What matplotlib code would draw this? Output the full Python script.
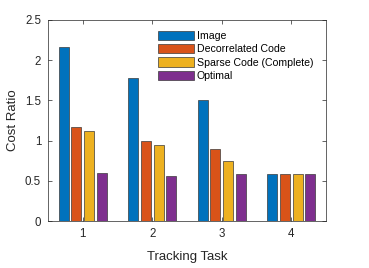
import numpy as np
import matplotlib
matplotlib.use("Agg")
import matplotlib.pyplot as plt

# values
tasks = ["1", "2", "3", "4"]
image = [2.16, 1.78, 1.51, 0.58]
decorrelated = [1.17, 1.00, 0.90, 0.58]
sparse = [1.115, 0.94, 0.75, 0.58]
optimal = [0.60, 0.565, 0.59, 0.58]
series_names = ["Image", "Decorrelated Code", "Sparse Code (Complete)", "Optimal"]
colors = ["#0072BD", "#D95319", "#EDB120", "#7E2F8E"]

plt.rcParams['font.family'] = ['Liberation Sans', 'DejaVu Sans']
txt = "#262626"

fig = plt.figure(figsize=(3.69, 2.68), dpi=100)
ax = fig.add_axes([48 / 369, 47 / 268, 278 / 369, 201 / 268])

x = np.arange(1, len(tasks) + 1)
pitch = 0.182
width = 0.145
all_series = [image, decorrelated, sparse, optimal]
for i, (vals, name, c) in enumerate(zip(all_series, series_names, colors)):
    ax.bar(x + (i - 1.5) * pitch, vals, width, color=c, edgecolor="#3a3a3a",
           linewidth=0.5, label=name)

ax.set_xlim(0.5, 4.5)
ax.set_ylim(0, 2.5)
ax.set_xticks(x)
ax.set_xticklabels(tasks)
ax.set_yticks([0, 0.5, 1, 1.5, 2, 2.5])
ax.set_yticklabels(["0", "0.5", "1", "1.5", "2", "2.5"])
ax.tick_params(direction="in", top=True, right=True, length=3, width=0.5,
               labelsize=8.3, colors=txt, pad=5)
for s in ax.spines.values():
    s.set_color(txt)
    s.set_linewidth(0.5)

ax.set_xlabel("Tracking Task", fontsize=9.5, color=txt, labelpad=8)
ax.set_ylabel("Cost Ratio", fontsize=9.5, color=txt, labelpad=4)

ax.legend(loc="upper left", bbox_to_anchor=(0.38, 0.968), frameon=False,
          fontsize=7.6, handlelength=3.4, handleheight=1.0, handletextpad=0.3,
          labelspacing=0.28, borderaxespad=0)

fig.savefig("out.png", dpi=100)
